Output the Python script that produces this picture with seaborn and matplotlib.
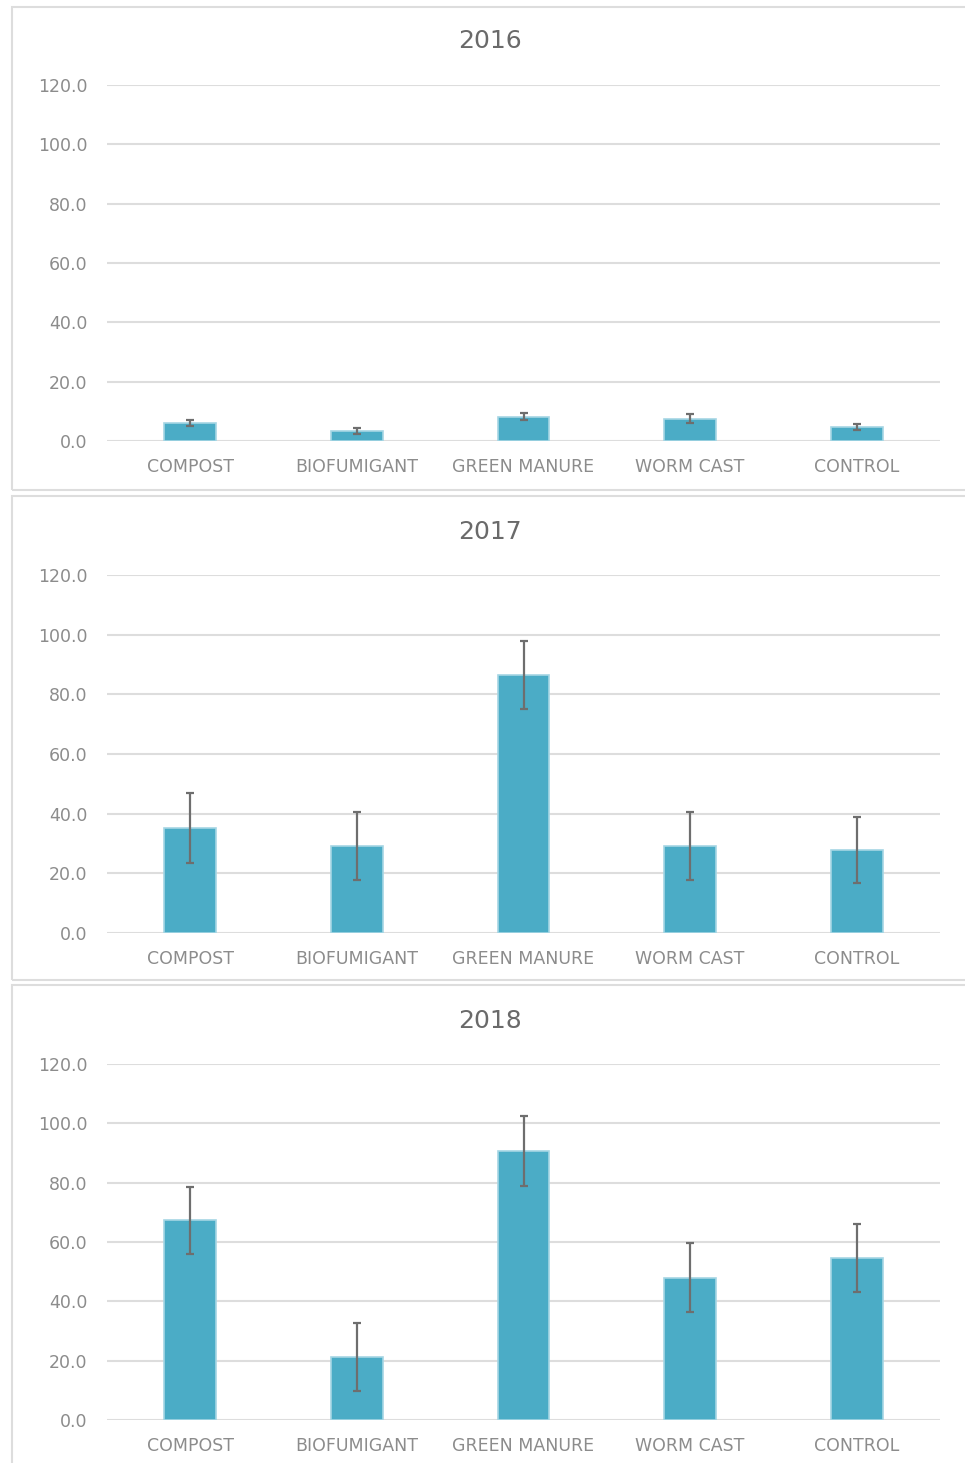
import pandas as pd
import seaborn as sns
import matplotlib.pyplot as plt
from matplotlib.patches import Rectangle

# Datos
categories = ['COMPOST', 'BIOFUMIGANT', 'GREEN MANURE', 'WORM CAST', 'CONTROL']
years = ['2016', '2017', '2018']
values_2016 = [6.0, 3.3, 8.2, 7.5, 4.7]
errors_2016 = [1.1, 1.0, 1.2, 1.5, 1.0]
values_2017 = [35.2, 29.2, 86.5, 29.2, 27.8]
errors_2017 = [11.6, 11.4, 11.5, 11.4, 11.2]
values_2018 = [67.4, 21.2, 90.7, 47.9, 54.6]
errors_2018 = [11.3, 11.4, 11.8, 11.6, 11.5]
y_ticks = [0, 20, 40, 60, 80, 100, 120]

BAR = '#4BACC6'
EDGE = '#A5D6E4'
GRID = '#DDDDDD'
TEXT = '#8C8C8C'
TITLE = '#6A6A6A'

sns.set_theme(style='white')
plt.rcParams['font.family'] = ['DejaVu Sans']

W, H = 965, 1463
fig = plt.figure(figsize=(W / 100, H / 100), dpi=100)


def px_rect(x0, y0, x1, y1):
    # convierte pixeles (origen arriba) a fraccion de figura
    return [x0 / W, 1 - y1 / H, (x1 - x0) / W, (y1 - y0) / H]


# marcos de cada panel
frames = [(12, 7, 975, 490), (12, 496, 975, 980), (12, 985, 975, 1475)]
for x0, y0, x1, y1 in frames:
    fig.patches.append(Rectangle((x0 / W, 1 - y1 / H), (x1 - x0) / W, (y1 - y0) / H,
                                 transform=fig.transFigure, fill=False,
                                 edgecolor=GRID, linewidth=1.5))

# ejes: (y de 120, y de 0) en pixeles, y posicion del titulo
axes_px = [(85, 441), (575, 933), (1064, 1420)]
title_y = [41, 532, 1021]
series = [(values_2016, errors_2016), (values_2017, errors_2017), (values_2018, errors_2018)]

for year, (top, bottom), ty, (vals, errs) in zip(years, axes_px, title_y, series):
    ax = fig.add_axes(px_rect(107, top, 940, bottom))
    df = pd.DataFrame({'Tratamiento': categories, 'Valor': vals})
    sns.barplot(data=df, x='Tratamiento', y='Valor', ax=ax, color=BAR,
                width=0.31, edgecolor=EDGE, linewidth=1.2, saturation=1)
    ax.errorbar(range(len(categories)), vals, yerr=errs, fmt='none',
                ecolor='#6E6E6E', elinewidth=1.6, capsize=3, capthick=1.6, zorder=5)

    ax.set_ylim(0, 120)
    ax.set_xlim(-0.5, 4.5)
    ax.set_yticks(y_ticks)
    ax.set_yticklabels([f'{t:.1f}' for t in y_ticks])
    ax.yaxis.grid(True, color=GRID, linewidth=1.5)
    ax.set_axisbelow(True)
    for s in ax.spines.values():
        s.set_visible(False)
    ax.tick_params(axis='both', length=0, colors=TEXT, labelsize=12.5)
    ax.tick_params(axis='x', pad=12)
    ax.tick_params(axis='y', pad=14)
    ax.set_xlabel('')
    ax.set_ylabel('')
    fig.text(490 / W, 1 - ty / H, year, ha='center', va='center',
             fontsize=18, color=TITLE, fontweight='medium')

fig.savefig('out.png', dpi=100, facecolor='white')
